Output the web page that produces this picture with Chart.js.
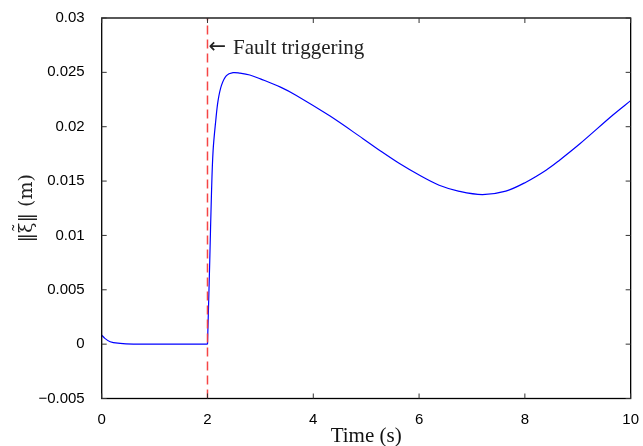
<!DOCTYPE html>
<html>
<head>
<meta charset="utf-8">
<script src="https://cdn.jsdelivr.net/npm/chart.js@4/dist/chart.umd.min.js"></script>
<style>
  html,body{margin:0;padding:0;background:#fff;}
  #wrap{width:643px;height:446px;position:relative;}
</style>
</head>
<body>
<div id="wrap"><canvas id="c"></canvas></div>
<script>
// ---- datos
const timeS=[0,0.06,0.16,0.35,0.6,1.0,1.5,2.0,2.02,2.043,2.075,2.106,2.157,2.2,2.264,2.358,2.483,2.61,2.8,3.0,3.38,3.68,4.31,4.94,5.25,5.63,6.01,6.38,6.76,7.2,7.64,8.02,8.4,8.65,9.04,9.67,10];
const normXi=[0.00083,0.00053,0.00022,0.00007,0.00001,0,0,0,0.0035,0.0077,0.0138,0.0178,0.0206,0.0224,0.0238,0.0247,0.02497,0.02493,0.02476,0.0244,0.02364,0.02288,0.0210,0.0189,0.01784,0.01661,0.01553,0.01462,0.01406,0.01376,0.01408,0.0149,0.0160,0.0169,0.01843,0.0211,0.0224];
const faultIdx=7; // índice donde t = 2 s
const faultT=[2,2];
const faultY=[-0.005,0.03];
const xTicks=[0,2,4,6,8,10];
const yTicks=[-0.005,0,0.005,0.01,0.015,0.02,0.025,0.03];
const yTickLabels=['\u22120.005','0','0.005','0.01','0.015','0.02','0.025','0.03'];
const noteArrow='\u2190';
const noteText='Fault triggering';
const notePos={x:2,y:0.0267};
const yTitle=['\u2016','\u03BE','\u2016 (m)'];

const sansF="'Liberation Sans', Arimo, Helvetica, Arial, sans-serif";
const serifF="'Liberation Serif', 'DejaVu Serif', serif";

// caja + ticks hacia adentro + anotación + título del eje y (con tilde sobre ξ)
const boxPlugin={
  id:'boxTicks',
  afterDatasetsDraw(chart){
    const {ctx,chartArea:a,scales:{x,y}}=chart;
    ctx.save();
    ctx.strokeStyle='#000';ctx.lineWidth=1.3;
    ctx.strokeRect(a.left,a.top,a.right-a.left,a.bottom-a.top);
    ctx.lineWidth=1;ctx.strokeStyle='#333';
    const tl=5;
    ctx.beginPath();
    xTicks.forEach(v=>{const px=x.getPixelForValue(v);
      ctx.moveTo(px,a.bottom);ctx.lineTo(px,a.bottom-tl);
      ctx.moveTo(px,a.top);ctx.lineTo(px,a.top+tl);});
    yTicks.forEach(v=>{const py=y.getPixelForValue(v);
      ctx.moveTo(a.left,py);ctx.lineTo(a.left+tl,py);
      ctx.moveTo(a.right,py);ctx.lineTo(a.right-tl,py);});
    ctx.stroke();
    // anotación: flecha + texto
    const px=x.getPixelForValue(notePos.x)+1, py=y.getPixelForValue(notePos.y);
    ctx.fillStyle='#222';ctx.textBaseline='alphabetic';ctx.textAlign='left';
    ctx.font="21px 'DejaVu Sans', sans-serif";
    ctx.fillText(noteArrow,px,py-1);
    const aw=ctx.measureText(noteArrow).width;
    ctx.font='21px '+serifF;
    ctx.fillText(noteText,px+aw+7,py);
    // título eje y, rotado
    ctx.font="19px 'DejaVu Serif', serif";
    const ws=yTitle.map(t=>ctx.measureText(t).width);
    const tot=ws.reduce((s,w)=>s+w,0);
    ctx.translate(32,(a.top+a.bottom)/2);
    ctx.rotate(-Math.PI/2);
    let cx=-tot/2;
    yTitle.forEach((t,i)=>{
      ctx.fillText(t,cx,0);
      if(i===1){ctx.textAlign='center';ctx.fillText('\u02DC',cx+ws[i]/2,-6);ctx.textAlign='left';}
      cx+=ws[i];
    });
    ctx.restore();
  }
};

const pts=timeS.map((t,i)=>({x:t,y:normXi[i]}));
new Chart(document.getElementById('c').getContext('2d'),{
  type:'line',
  data:{datasets:[
    {label:'fault',data:faultT.map((t,i)=>({x:t,y:faultY[i]})),borderColor:'rgba(245,60,60,0.95)',borderWidth:1.5,borderDash:[9,5],pointRadius:0,fill:false},
    {label:'xi-pre',data:pts.slice(0,faultIdx+1),borderColor:'#0000ff',borderWidth:1.2,pointRadius:0,cubicInterpolationMode:'monotone',fill:false},
    {label:'xi-post',data:pts.slice(faultIdx),borderColor:'#0000ff',borderWidth:1.2,pointRadius:0,tension:0.35,fill:false}
  ]},
  options:{responsive:true,maintainAspectRatio:false,animation:false,
    layout:{padding:{top:17,right:11,left:0,bottom:0}},
    plugins:{legend:{display:false},tooltip:{enabled:false}},
    scales:{
      x:{type:'linear',min:0,max:10,
        afterBuildTicks:s=>{s.ticks=xTicks.map(v=>({value:v}));},
        afterFit:s=>{s.height=47.5;},
        grid:{display:false},border:{display:false},
        ticks:{color:'#000',font:{family:sansF,size:15},padding:4,maxRotation:0},
        title:{display:true,text:'Time (s)',color:'#111',font:{family:serifF,size:21},padding:{top:0,bottom:-3}}},
      y:{type:'linear',min:-0.005,max:0.03,
        afterBuildTicks:s=>{s.ticks=yTicks.map(v=>({value:v}));},
        afterFit:s=>{s.width=101.7;},
        grid:{display:false},border:{display:false},
        ticks:{color:'#000',font:{family:sansF,size:15},padding:9,
          callback:v=>{const i=yTicks.findIndex(t=>Math.abs(t-v)<1e-9);return i<0?'':yTickLabels[i];}},
        title:{display:false}}
    }
  },
  plugins:[boxPlugin]
});
</script>
</body>
</html>
